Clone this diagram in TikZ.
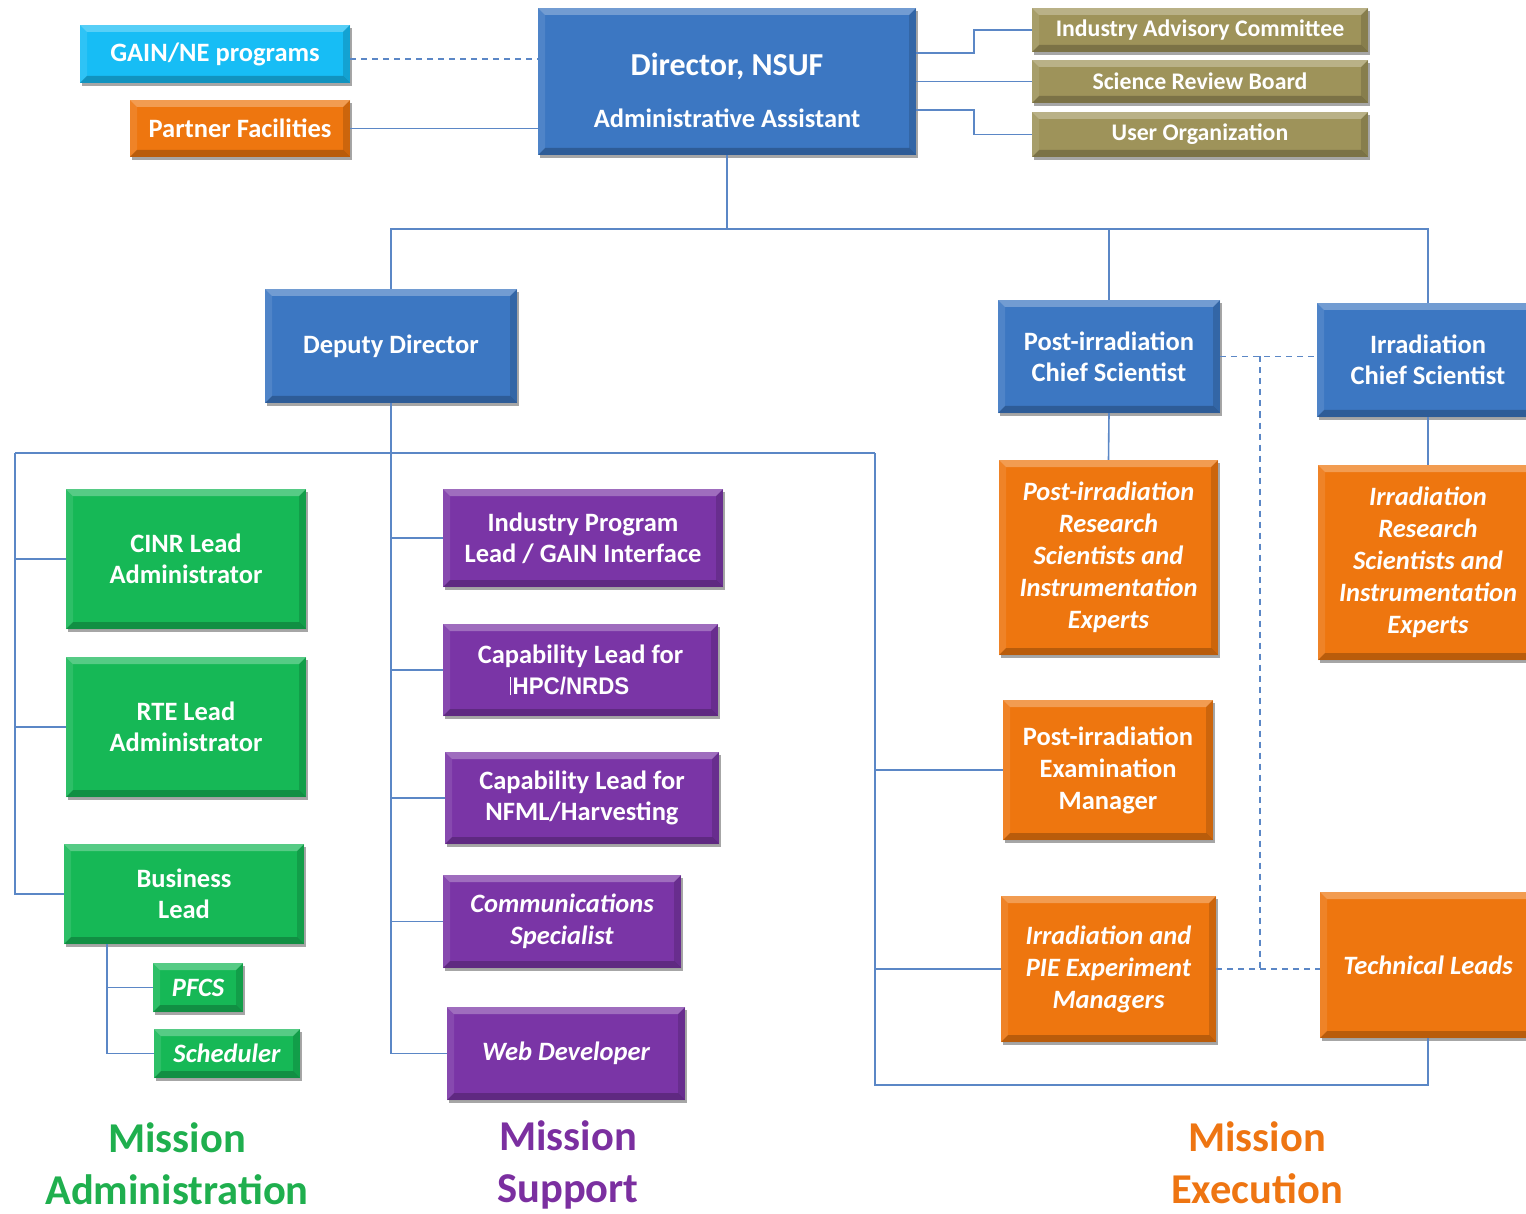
\documentclass[tikz,border=0pt]{standalone}
\usepackage{fontspec}
\setmainfont{Carlito}
\newfontfamily\arialf{Liberation Sans}
\usetikzlibrary{shadows}
\definecolor{cblue}{HTML}{3C77C2}
\definecolor{corange}{HTML}{EE760F}
\definecolor{cgreen}{HTML}{16B856}
\definecolor{cpurple}{HTML}{7A35A6}
\definecolor{ccyan}{HTML}{17BDF5}
\definecolor{colive}{HTML}{9E935A}
\definecolor{linec}{HTML}{5B87C6}
\definecolor{tgreen}{HTML}{1FAF4E}
\definecolor{tpurple}{HTML}{7B2FA0}
\definecolor{torange}{HTML}{EE7512}
\tikzset{
  bevel/.style={path picture={
    \path (path picture bounding box.north west) coordinate (nw)
          (path picture bounding box.south east) coordinate (se);
    \fill[white,opacity=.28] (nw) -- (nw -| se) -- ([shift={(-7pt,-7pt)}]nw -| se) -- ([shift={(7pt,-7pt)}]nw) -- cycle;
    \fill[white,opacity=.10] (nw) -- (nw |- se) -- ([shift={(7pt,7pt)}]nw |- se) -- ([shift={(7pt,-7pt)}]nw) -- cycle;
    \fill[black,opacity=.22] (se) -- (se -| nw) -- ([shift={(7pt,7pt)}]se -| nw) -- ([shift={(-7pt,7pt)}]se) -- cycle;
    \fill[black,opacity=.14] (se) -- (nw -| se) -- ([shift={(-7pt,-7pt)}]nw -| se) -- ([shift={(-7pt,7pt)}]se) -- cycle;
  }},
  box/.style={text=white, align=center, inner sep=0pt,
    font=\bfseries\fontsize{26.5}{31}\selectfont,
    drop shadow={shadow xshift=2pt, shadow yshift=-3pt, opacity=.35, fill=black},
    bevel},
  ibox/.style={box, font=\bfseries\itshape\fontsize{26.5}{32}\selectfont},
  obox/.style={box, fill=colive, minimum width=336pt, font=\bfseries\fontsize{23.8}{28}\selectfont},
  conn/.style={draw=linec, line width=1.6pt},
  dconn/.style={conn, dash pattern=on 6pt off 5pt},
  ttl/.style={font=\bfseries\fontsize{42.5}{52}\selectfont, align=center, inner sep=0pt},
}
\begin{document}
\begin{tikzpicture}[x=1pt,y=-1pt]
\useasboundingbox (0,0) rectangle (1526,1214);

% top row
\node[box, fill=ccyan, minimum width=270pt, minimum height=58pt] (gain) at (215,54) {GAIN/NE programs};
\node[box, fill=corange, minimum width=220pt, minimum height=57pt] (partner) at (240,128.5) {Partner Facilities};
\node[box, fill=cblue, minimum width=378pt, minimum height=147pt] (dir) at (727,81.5)
  {\rule{0pt}{40pt}{\fontsize{32}{38}\selectfont Director, NSUF}\\[21pt]Administrative Assistant};
\node[obox, minimum height=44pt] (iac) at (1200,30) {Industry Advisory Committee};
\node[obox, minimum height=43pt] (srb) at (1200,81.5) {Science Review Board};
\node[obox, minimum height=45pt] (uo) at (1200,134.5) {User Organization};

% second row
\node[box, fill=cblue, minimum width=252pt, minimum height=114pt] (dep) at (391,346) {Deputy Director};
\node[box, fill=cblue, minimum width=222pt, minimum height=113pt] (pic) at (1109,356.5) {Post-irradiation\\Chief Scientist};
\node[box, fill=cblue, minimum width=222pt, minimum height=114pt] (irc) at (1428,360) {Irradiation\\Chief Scientist};

% mission execution
\node[ibox, fill=corange, minimum width=219pt, minimum height=195pt] (pir) at (1108.5,557.5)
  {Post-irradiation\\Research\\Scientists and\\Instrumentation\\Experts};
\node[ibox, fill=corange, minimum width=220pt, minimum height=195pt] (irr) at (1428,562.5)
  {Irradiation\\Research\\Scientists and\\Instrumentation\\Experts};
\node[box, fill=corange, minimum width=210pt, minimum height=140pt, font=\bfseries\fontsize{26.5}{32}\selectfont] (piem) at (1108,770)
  {Post-irradiation\\Examination\\Manager};
\node[ibox, fill=corange, minimum width=215pt, minimum height=146pt] (ipem) at (1108.5,969)
  {Irradiation and\\PIE Experiment\\Managers};
\node[ibox, fill=corange, minimum width=216pt, minimum height=146pt] (tl) at (1428,965) {Technical Leads};

% mission administration
\node[box, fill=cgreen, minimum width=240pt, minimum height=140pt] (cinr) at (186,559) {CINR Lead\\Administrator};
\node[box, fill=cgreen, minimum width=240pt, minimum height=140pt] (rte) at (186,727) {RTE Lead\\Administrator};
\node[box, fill=cgreen, minimum width=240pt, minimum height=100pt] (bl) at (184,894) {Business\\Lead};
\node[ibox, fill=cgreen, minimum width=90pt, minimum height=49pt] (pfcs) at (198,987.5) {PFCS};
\node[ibox, fill=cgreen, minimum width=146pt, minimum height=49pt] (sched) at (227,1053.5) {Scheduler};

% mission support
\node[box, fill=cpurple, minimum width=280pt, minimum height=98pt] (ipl) at (583,538) {Industry Program\\Lead / GAIN Interface};
\node[box, fill=cpurple, minimum width=275pt, minimum height=92pt] (hpc) at (580.5,670)
  {Capability Lead for\\{\arialf\bfseries\fontsize{24}{31}\selectfont\hspace*{-22pt}\rule[-1pt]{1pt}{18pt}\hspace{2pt}\scalebox{0.93}[1]{HPC/NRDS}}};
\node[box, fill=cpurple, minimum width=274pt, minimum height=92pt] (nfml) at (582,798) {Capability Lead for\\NFML/Harvesting};
\node[ibox, fill=cpurple, minimum width=238pt, minimum height=93pt] (comm) at (562,921.5) {Communications\\Specialist};
\node[ibox, fill=cpurple, minimum width=238pt, minimum height=93pt] (web) at (566,1053.5) {Web Developer};

% titles
\node[ttl, text=tgreen] (tadm) at (177,1164) {Mission\\Administration};
\node[ttl, text=tpurple] (tsup) at (568,1165) {Mission\\Support};
\node[ttl, text=torange] (texe) at (1257,1163) {Mission\\Execution};

% connectors: top
\draw[dconn] ([yshift=-5pt]gain.east) -- ([yshift=-5pt]gain.east -| dir.west);
\draw[conn] (partner.east) -- (partner.east -| dir.west);
\draw[conn] ([yshift=28.5pt]dir.east) -- ++(58,0) |- (iac.west);
\draw[conn] (dir.east) -- (srb.west);
\draw[conn] ([yshift=-28.5pt]dir.east) -- ++(58,0) |- (uo.west);

\coordinate (bus) at (727,229);
\draw[conn] (dir.south) -- (bus);
\draw[conn] (dep.north) |- (bus -| irc.north) -- (irc.north);
\draw[conn] (pic.north) -- (pic.north |- bus);

% chief scientists
\coordinate (dj) at (1260,356.5);
\draw[dconn] (pic.east) -- (pic.east -| irc.west);
\draw[dconn] (dj) -- (dj |- ipem.east);
\draw[dconn] (ipem.east) -- (ipem.east -| tl.west);
\draw[conn] (pic.south) -- (pir.north);
\draw[conn] (irc.south) -- (irr.north);

% deputy tree
\coordinate (la) at (15,453);
\coordinate (ms) at (391,453);
\coordinate (ra) at (875,453);
\draw[conn] (dep.south) -- (ms);
\draw[conn] (la) -- (ra);
\draw[conn] (la) |- (bl.west);
\draw[conn] (cinr.west) -- (cinr.west -| la);
\draw[conn] (rte.west) -- (rte.west -| la);
\draw[conn] (ms) |- (web.west);
\draw[conn] (ipl.west) -- (ipl.west -| ms);
\draw[conn] (hpc.west) -- (hpc.west -| ms);
\draw[conn] (nfml.west) -- (nfml.west -| ms);
\draw[conn] (comm.west) -- (comm.west -| ms);
\draw[conn] (ra) -- (875,1085) -| (tl.south);
\draw[conn] (piem.west) -- (piem.west -| ra);
\draw[conn] (ipem.west) -- (ipem.west -| ra);

% business lead subtree
\draw[conn] ([xshift=-77pt]bl.south) |- (sched.west);
\draw[conn] (pfcs.west) -- (pfcs.west -| 107,0);
\end{tikzpicture}
\end{document}
